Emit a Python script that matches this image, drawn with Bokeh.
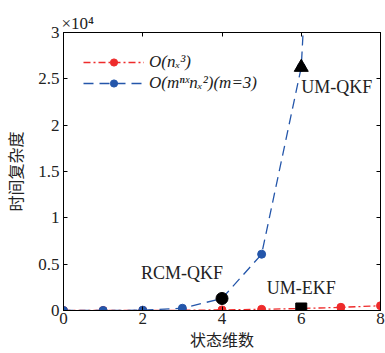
from bokeh.plotting import figure
from bokeh.models import (Range1d, FixedTicker, LinearAxis, Legend, LegendItem, Label)
from bokeh.embed import file_html
from bokeh.resources import INLINE

# data
n = [0, 1, 2, 3, 4, 5, 6, 7, 8]
red_vals = [0, 1, 8, 27, 64, 125, 216, 343, 512]
n_blue = [0, 1, 2, 3, 4, 5, 6, 7]
blue_vals = [0, 3, 36, 243, 1296, 6075, 26244, 107163]
marks = {
    "RCM-QKF": (4, 1296),
    "UM-QKF": (6, 26244),
    "UM-EKF": (6, 216),
}
y_ticks = [0, 5000, 10000, 15000, 20000, 25000, 30000]
y_tick_labels = ["0", "0.5", "1", "1.5", "2", "2.5", "3"]
x_ticks = [0, 2, 4, 6, 8]

RED = "#EE2B2B"
BLUE = "#2456AA"
SERIF = "Liberation Serif"
CJK = "Noto Sans CJK SC"

p = figure(width=385, height=353, output_backend="svg", toolbar_location=None,
           x_range=Range1d(0, 8), y_range=Range1d(0, 30000),
           min_border_left=62, min_border_right=5, min_border_top=32, min_border_bottom=36,
           title="×10⁴")
p.title.text_font = SERIF
p.title.text_font_style = "normal"
p.title.text_font_size = "17px"
p.title.text_color = "#222222"
p.title.align = "left"
p.title.offset = -2
p.title.standoff = 0
p.outline_line_color = "black"
p.outline_line_width = 1
p.grid.visible = False
p.background_fill_color = "white"

def style_axis(ax, labels=True):
    ax.major_tick_in = 4
    ax.major_tick_out = 0
    ax.minor_tick_in = 0
    ax.minor_tick_out = 0
    ax.axis_line_color = "black"
    ax.major_label_text_font = SERIF
    ax.major_label_text_font_size = "17px"
    ax.major_label_text_color = "#222222"
    if not labels:
        ax.major_label_text_color = None
        ax.major_label_text_font_size = "1px"
        ax.major_label_standoff = 0

p.xaxis.ticker = FixedTicker(ticks=x_ticks)
p.yaxis.ticker = FixedTicker(ticks=y_ticks)
p.yaxis.major_label_overrides = {t: l for t, l in zip(y_ticks, y_tick_labels)}
style_axis(p.xaxis[0])
style_axis(p.yaxis[0])
p.xaxis.major_label_standoff = 2
p.yaxis.major_label_standoff = 4
p.xaxis.axis_label = "状态维数"
p.yaxis.axis_label = "时间复杂度"
for ax in (p.xaxis[0], p.yaxis[0]):
    ax.axis_label_text_font = CJK
    ax.axis_label_text_font_style = "normal"
    ax.axis_label_text_font_size = "16px"
    ax.axis_label_text_color = "#222222"
p.xaxis.axis_label_standoff = 0
p.yaxis.axis_label_standoff = 8

top = LinearAxis(ticker=FixedTicker(ticks=x_ticks))
style_axis(top, labels=False)
p.add_layout(top, "above")
right = LinearAxis(ticker=FixedTicker(ticks=y_ticks))
style_axis(right, labels=False)
p.add_layout(right, "right")

# series
r_line = p.line(n, red_vals, line_color=RED, line_width=1.3, line_dash="7 3 2 3")
r_pts = p.scatter(n, red_vals, marker="circle", size=8, fill_color=RED, line_color=RED)
b_line = p.line(n_blue, blue_vals, line_color=BLUE, line_width=1.3, line_dash="10 6")
b_pts = p.scatter(n_blue, blue_vals, marker="circle", size=8, fill_color=BLUE, line_color=BLUE)

# highlighted methods
p.scatter([marks["RCM-QKF"][0]], [marks["RCM-QKF"][1]], marker="circle", size=12,
          fill_color="black", line_color="black")
p.scatter([marks["UM-QKF"][0]], [marks["UM-QKF"][1]], marker="triangle", size=14,
          fill_color="black", line_color="black")
p.scatter([marks["UM-EKF"][0]], [marks["UM-EKF"][1]], marker="square", size=11,
          fill_color="black", line_color="black")

lbl_style = dict(text_font=SERIF, text_font_size="18px", text_color="#222222")
p.add_layout(Label(x=marks["RCM-QKF"][0], y=marks["RCM-QKF"][1], text="RCM-QKF",
                   x_offset=1, y_offset=15, text_align="right", **lbl_style))
p.add_layout(Label(x=marks["UM-EKF"][0], y=marks["UM-EKF"][1], text="UM-EKF",
                   x_offset=0, y_offset=10, text_align="center", **lbl_style))
p.add_layout(Label(x=marks["UM-QKF"][0], y=marks["UM-QKF"][1], text="UM-QKF",
                   x_offset=0, y_offset=-30, text_align="left", **lbl_style))

legend = Legend(items=[
    LegendItem(label="O(nₓ³)", renderers=[r_line, r_pts]),
    LegendItem(label="O(mⁿˣnₓ²)(m=3)", renderers=[b_line, b_pts]),
], location="top_left")
legend.border_line_color = None
legend.background_fill_alpha = 0
legend.label_text_font = SERIF
legend.label_text_font_style = "italic"
legend.label_text_font_size = "17px"
legend.label_text_color = "#222222"
legend.glyph_width = 61
legend.glyph_height = 18
legend.spacing = 1
legend.margin = 20
legend.padding = 8
legend.label_standoff = 5
p.add_layout(legend)

open("out.html", "w").write(file_html(p, INLINE))
